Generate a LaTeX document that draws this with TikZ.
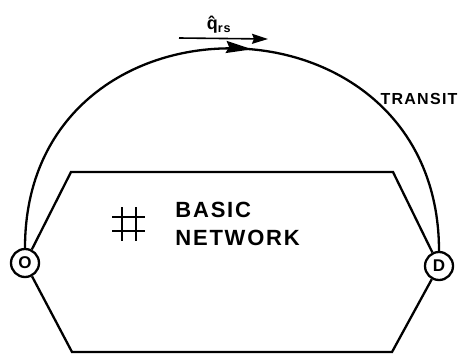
\documentclass[tikz,border=0pt]{standalone}
\usepackage{fontspec}
\setmainfont{Liberation Sans}
\newfontfamily\spacedfont[LetterSpace=8]{Liberation Sans}
\usetikzlibrary{arrows.meta}
\usetikzlibrary{positioning}
\usetikzlibrary{decorations.markings}

\begin{document}
\begin{tikzpicture}[x=1pt,y=-1pt,line width=2.3pt,
  endpt/.style={draw,circle,minimum size=28pt,inner sep=0pt,
    font=\bfseries\fontsize{17}{17}\selectfont},
  lbl/.style={font=\spacedfont\bfseries\fontsize{16}{16}\selectfont},
  tip/.style={-{Stealth[length=16pt,width=10pt,inset=2pt]}}]
\useasboundingbox (0,0) rectangle (462,356);

% Origem e destino
\node[endpt] (O) at (25,263) {O};
\node[endpt] (D) at (439,266) {D};

% Rede basica
\coordinate (tl) at (71,172);
\coordinate (tr) at (393,172);
\coordinate (bl) at (72,352);
\coordinate (br) at (392,352);
\draw (O) -- (tl) -- (tr) -- (D);
\draw (O) -- (bl) -- (br) -- (D);

% Grade
\draw[line width=1.3pt] (112,217) -- (145,217) (112,231) -- (145,231)
  (122,207) -- (122,241) (136,207) -- (136,241);
\node[anchor=west,align=left,font=\spacedfont\bfseries\fontsize{22}{28}\selectfont]
  (basic) at (171,224) {BASIC\\NETWORK};

% Transito
\draw[postaction={decorate},decoration={markings,
  mark=at position 0.53 with {\arrow{Stealth[length=26pt,width=12pt,inset=3pt]}}}]
  (O.north) .. controls +(0,-268) and +(0,-268) .. (D.north);
\node[lbl,anchor=east] (transit) at (462,99) {TRANSIT};

% Fluxo
\coordinate (qa) at (179,38);
\coordinate (qb) at (268,39);
\draw[tip,line width=1.6pt] (qa) -- (qb);
\node[font=\bfseries\fontsize{18}{18}\selectfont] (q) at (219,25)
  {q^^^^0302\textsubscript{\spacedfont\bfseries rs}};

\end{tikzpicture}
\end{document}
